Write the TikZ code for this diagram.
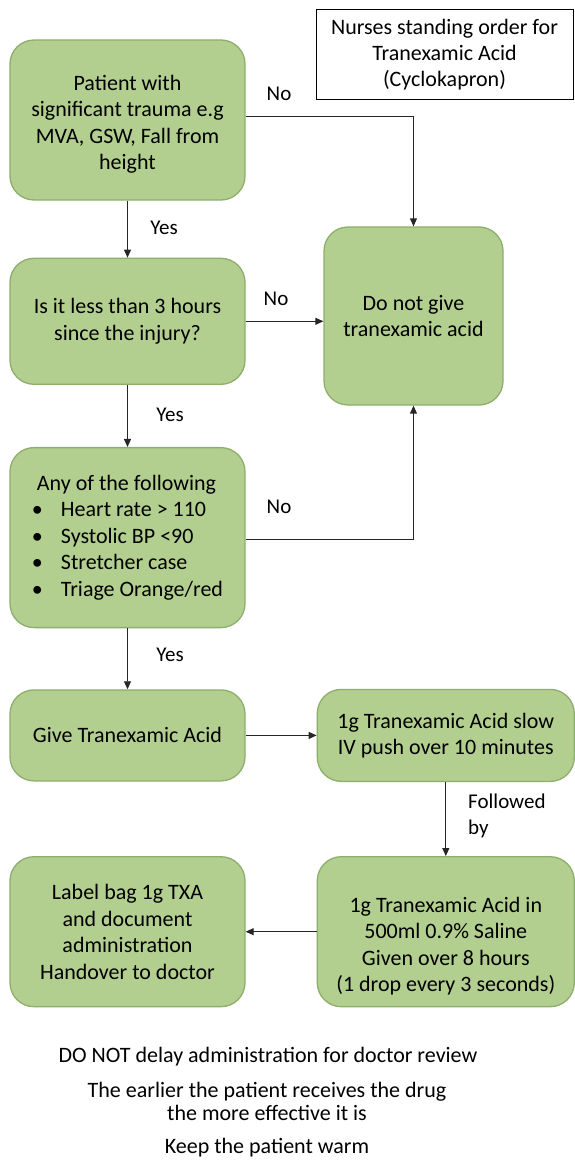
\documentclass[tikz,border=0pt]{standalone}
\usepackage{fontspec}
\setmainfont{Carlito}
\usetikzlibrary{positioning,arrows.meta,calc}
\definecolor{leaf}{HTML}{B3CF8F}
\definecolor{leafDark}{HTML}{8DAE6C}

\begin{document}
\begin{tikzpicture}[x=1pt,y=-1pt,
    box/.style={rounded corners=24pt,draw=leafDark,line width=1.3pt,fill=leaf,
      minimum width=235pt,align=center,inner sep=0pt,font=\fontsize{22}{26.5}\selectfont},
    lbl/.style={font=\fontsize{21}{26}\selectfont},
    note/.style={font=\fontsize{22}{23}\selectfont,align=center},
    arr/.style={-{Triangle[length=8pt,width=7pt]},line width=0.9pt,draw=black!85}]
  \useasboundingbox (0,0) rectangle (574,1161);
  \node[draw,line width=1pt,minimum width=257pt,minimum height=90pt,align=center,
    font=\fontsize{22}{26}\selectfont] (title) at (444.5,55)
    {Nurses standing order for\\Tranexamic Acid\\(Cyclokapron)};
  % left column
  \node[box,minimum height=160pt] (trauma) at (127.5,120)
    {\rule{0pt}{24pt}Patient with\\significant trauma e.g\\MVA, GSW, Fall from\\height};
  \node[box,minimum height=126pt,below=57pt of trauma] (hours)
    {Is it less than 3 hours\\since the injury?};
  \node[box,minimum height=180pt,below=62pt of hours,align=left] (signs)
    {\hspace*{5pt}Any of the following\\
     \textbullet\hspace{18pt}Heart rate > 110\\
     \textbullet\hspace{18pt}Systolic BP <90\\
     \textbullet\hspace{18pt}Stretcher case\\
     \textbullet\hspace{18pt}Triage Orange/red};
  \node[box,minimum height=91pt,below=61pt of signs] (give) {Give Tranexamic Acid};
  % right column
  \node[box,minimum width=179pt,minimum height=178pt] (nogive) at (413.5,316)
    {Do not give\\tranexamic acid};
  \node[box,minimum width=257pt,minimum height=92pt,right=71pt of give] (push)
    {1g Tranexamic Acid slow\\IV push over 10 minutes};
  \node[box,minimum width=257pt,minimum height=150pt,below=74pt of push] (drip)
    {\rule{0pt}{44pt}1g Tranexamic Acid in\\500ml 0.9\% Saline\\Given over 8 hours\\(1 drop every 3 seconds)};
  \node[box,minimum height=150pt,left=71pt of drip] (handover)
    {Label bag 1g TXA\\and document\\administration\\Handover to doctor};
  % connectors
  \draw[arr] (trauma.east) ++(0,-4) -| (nogive.north);
  \draw[arr] (trauma) -- (hours);
  \draw[arr] (hours.east) -- (hours.east -| nogive.west);
  \draw[arr] (hours) -- (signs);
  \draw[arr] (signs.east) ++(0,2) -| (nogive.south);
  \draw[arr] (signs) -- (give);
  \draw[arr] (give) -- (push);
  \draw[arr] (push) -- (drip);
  \draw[arr] (drip) -- (handover);
  % labels
  \node[lbl] (no1) at (279,94) {No};
  \node[lbl] (yes1) at (164,228) {Yes};
  \node[lbl] (no2) at (276,299) {No};
  \node[lbl] (yes2) at (170,415) {Yes};
  \node[lbl] (no3) at (279,507) {No};
  \node[lbl] (yes3) at (170,655) {Yes};
  \node[lbl,anchor=west,align=left,inner sep=0pt] (then) at (468,816) {Followed\\by};
  % notes
  \node[note] (note1) at (268,1057) {DO NOT delay administration for doctor review};
  \node[note] (note2) at (267,1101)
    {The earlier the patient receives the drug\\the more effective it is};
  \node[note] (note3) at (267,1148) {Keep the patient warm};
\end{tikzpicture}
\end{document}
